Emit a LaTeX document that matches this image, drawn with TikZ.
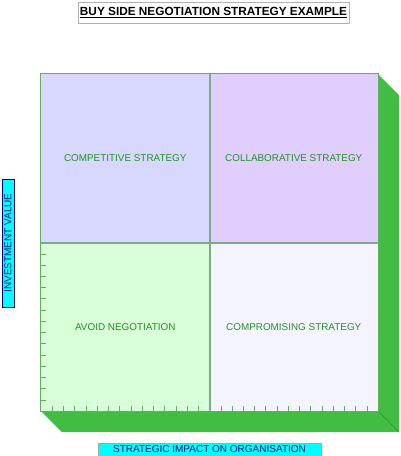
\documentclass[tikz,border=0pt]{standalone}
\usepackage{fontspec}
\setmainfont{Liberation Sans}[BoldFont={Liberation Sans Bold}]
\usepackage{tikz}

\begin{document}
\begin{tikzpicture}[x=1pt, y=-1pt]
  \def\tick{11.233}
  \definecolor{frameG}{HTML}{5FAF5F}
  \definecolor{midG}{HTML}{7FA88C}
  \definecolor{sideG}{HTML}{42BC42}
  \definecolor{edgeG}{HTML}{2E8A2E}
  \definecolor{textG}{HTML}{259225}
  \definecolor{qCompet}{HTML}{D8D8FF}
  \definecolor{qCollab}{HTML}{E0CEFF}
  \definecolor{qAvoid}{HTML}{D8FFD8}
  \definecolor{qCompro}{HTML}{F4F4FF}
  \definecolor{axisTxt}{HTML}{10107A}
  \definecolor{axisFill}{HTML}{00FFFF}
  \tikzset{
    quad/.style={minimum width=168.5pt, minimum height=168.5pt, inner sep=0pt,
                 font=\fontsize{9.9}{11}\selectfont, text=textG},
    axislbl/.style={fill=axisFill, inner sep=0pt, text=axisTxt,
                    font=\fontsize{10}{11}\selectfont},
  }
  \useasboundingbox (0,0) rectangle (400,456);

  %--- title ---
  \node[draw=gray!60, fill=white, minimum width=271pt, minimum height=21pt, inner sep=0pt,
        font=\bfseries\fontsize{11.8}{14}\selectfont] (title) at (213.5,12.5)
        {\underline{BUY SIDE NEGOTIATION STRATEGY EXAMPLE}};

  %--- 3D sides of the box ---
  \fill[sideG] (378,74) -- (399,95) -- (399,432) -- (378,411) -- cycle;
  \fill[sideG] (41,411) -- (378,411) -- (399,432) -- (62,432) -- cycle;
  \draw[edgeG, thin] (378,411) -- (399,432);

  %--- quadrants ---
  \node[quad, fill=qCompet] (compet) at (125.25,158.25) {COMPETITIVE STRATEGY};
  \node[quad, fill=qCollab] (collab) at (293.75,158.25) {COLLABORATIVE STRATEGY};
  \node[quad, fill=qAvoid]  (avoid)  at (125.25,326.75) {AVOID NEGOTIATION};
  \node[quad, fill=qCompro] (compro) at (293.75,326.75) {COMPROMISING STRATEGY};

  %--- ticks ---
  \foreach \k in {1,...,29}
    \draw[frameG] ({41+\k*\tick},411) -- ({41+\k*\tick},406);
  \foreach \k in {1,...,14}
    \draw[frameG] (41,{411-\k*\tick}) -- (46,{411-\k*\tick});

  %--- dividers and frame ---
  \draw[midG, line width=1.6pt] (compet.north east) -- (avoid.south east);
  \draw[midG, line width=1.6pt] (compet.south west) -- (collab.south east);
  \draw[frameG, line width=1pt] (compet.north west) rectangle (compro.south east);

  %--- axis labels ---
  \node[axislbl, draw=blue!60!black, minimum width=12pt, minimum height=128pt] (yaxis) at (8,243)
        {\rotatebox{90}{INVESTMENT VALUE}};
  \node[axislbl, draw=gray!70, minimum width=223pt, minimum height=13pt] (xaxis) at (209.5,449.5)
        {STRATEGIC IMPACT ON ORGANISATION};

\end{tikzpicture}
\end{document}
